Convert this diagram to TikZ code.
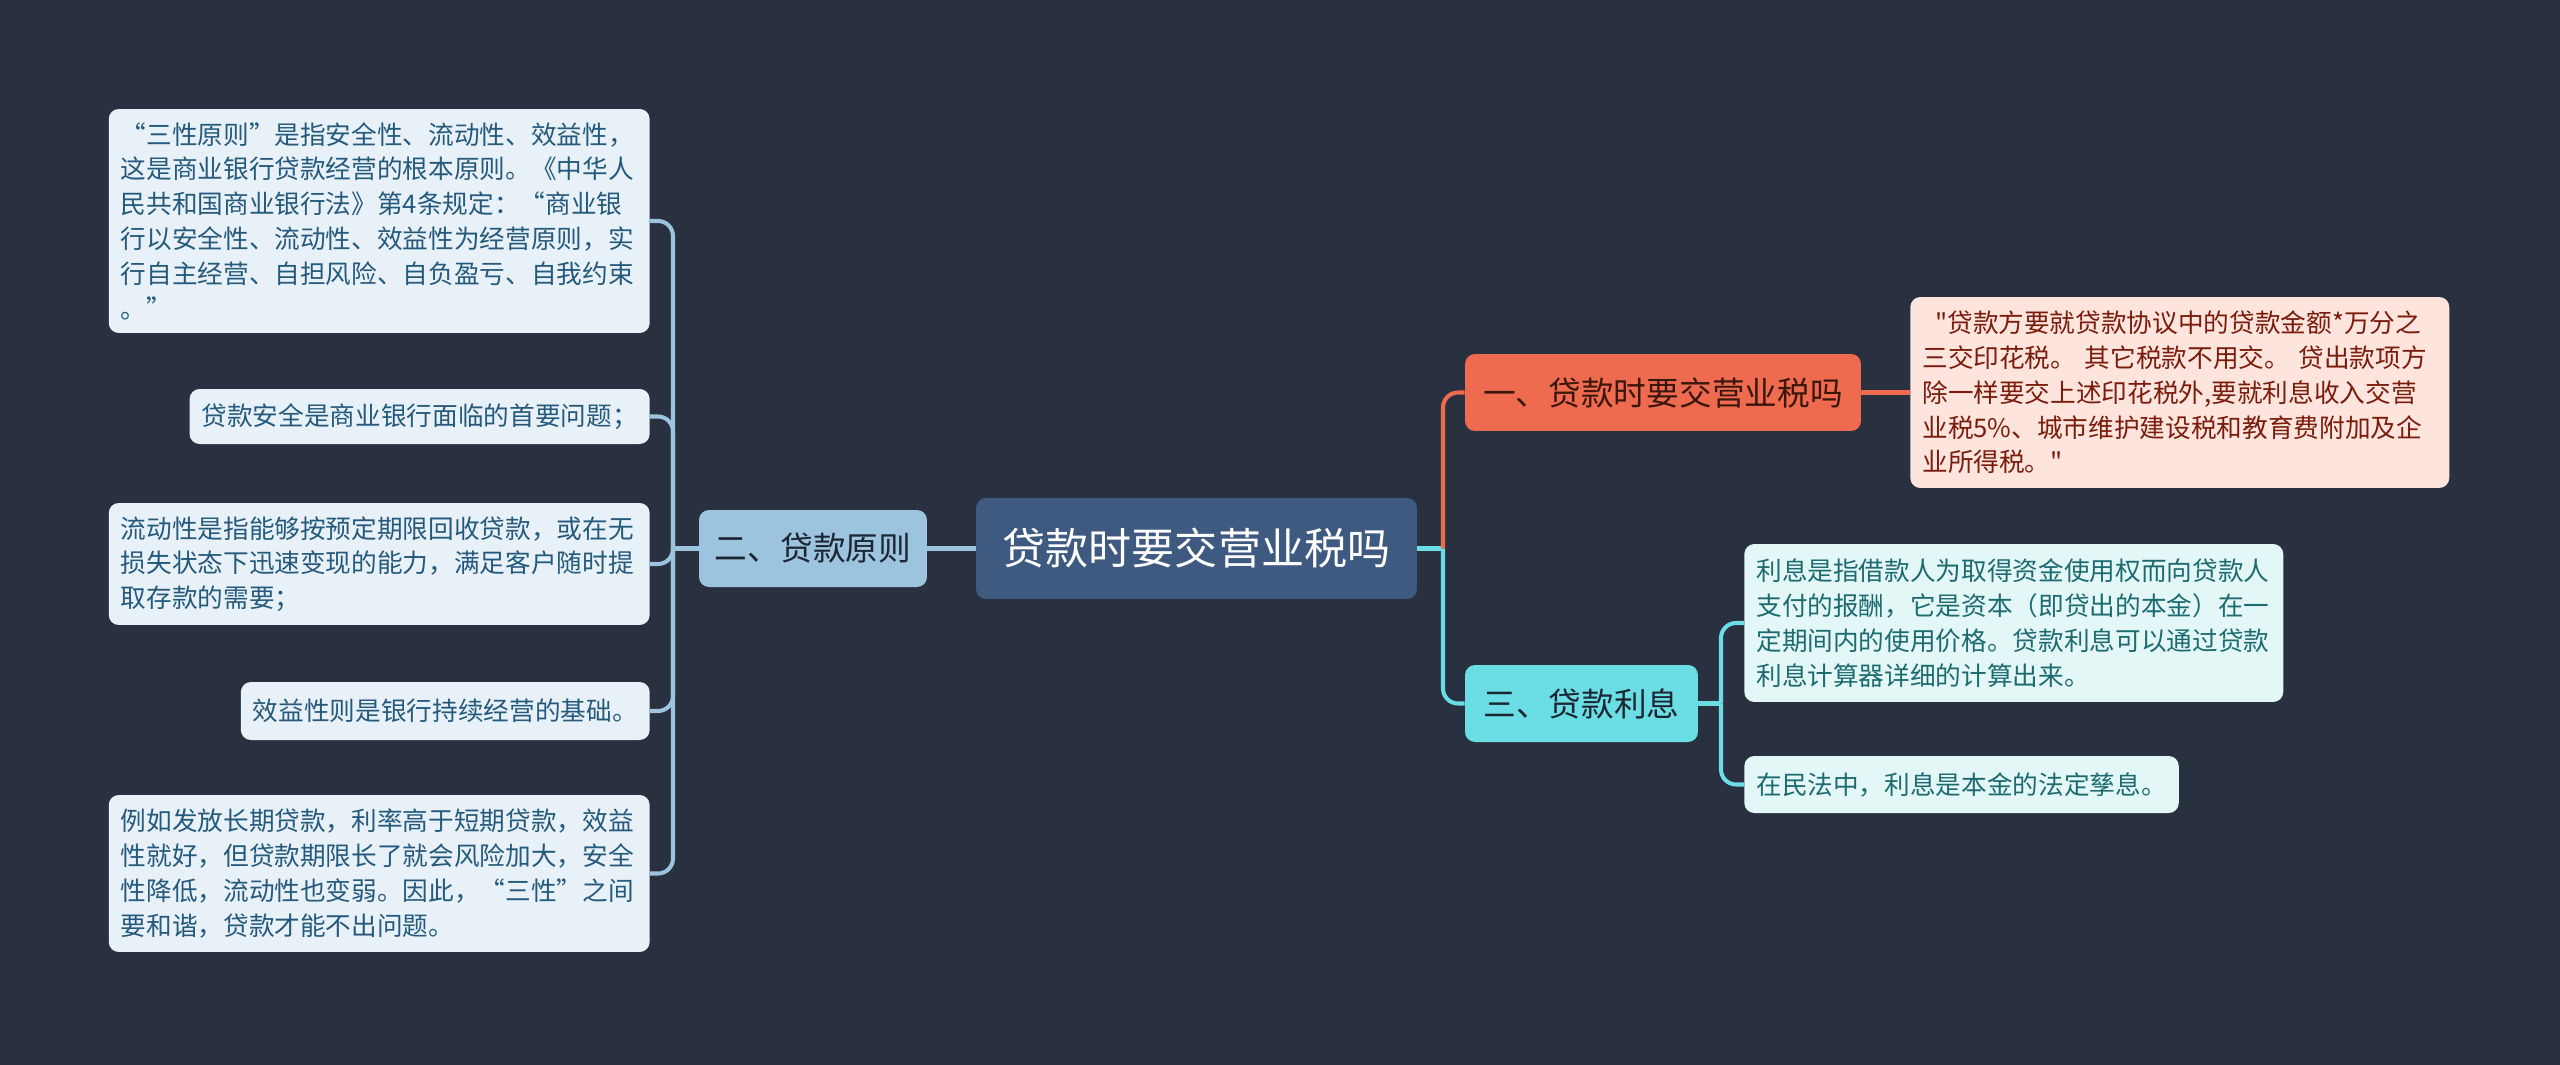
\documentclass[tikz,border=0pt]{standalone}
\usepackage{fontspec}
\setmainfont{Noto Sans CJK SC}[Ligatures=TeXOff]
\usepackage{xcolor}
\usepackage{tikz}
\usetikzlibrary{positioning}

\definecolor{bgcol}{HTML}{293140}
\definecolor{rootcol}{HTML}{3E5A80}
\definecolor{bluecol}{HTML}{9DC4DE}
\definecolor{leafcol}{HTML}{E8F1F8}
\definecolor{leaftext}{HTML}{255A7C}
\definecolor{redcol}{HTML}{EE6B4F}
\definecolor{pinkcol}{HTML}{FDE4DD}
\definecolor{redtext}{HTML}{7A1C0C}
\definecolor{cyancol}{HTML}{6BDDE4}
\definecolor{mintcol}{HTML}{E3F7F7}
\definecolor{tealtext}{HTML}{1D6B70}
\definecolor{navytext}{HTML}{1C2633}
\definecolor{browntext}{HTML}{3A160C}

\tikzset{
  box/.style={rounded corners=0.2cm, inner xsep=0.24cm, inner ysep=0.1cm},
  rootbox/.style={box, fill=rootcol, text=white, font=\fontsize{24.5}{28}\selectfont,
    minimum width=8.82cm, minimum height=2.02cm},
  branch/.style={box, font=\fontsize{18.6}{22}\selectfont, minimum height=1.54cm},
  leaf/.style={box, font=\fontsize{14.6}{19.8}\selectfont, align=left},
  bleaf/.style={leaf, fill=leafcol, text=leaftext},
  rleaf/.style={leaf, fill=pinkcol, text=redtext},
  cleaf/.style={leaf, fill=mintcol, text=tealtext},
  link/.style={line width=2.3pt},
  elbow/.style={link, rounded corners=0.3cm},
}

\begin{document}
\begin{tikzpicture}[x=0.02cm, y=-0.02cm]
\fill[bgcol] (0,0) rectangle (2560,1065);
% centre topic
\node[rootbox] (root) at (1196.5,548.5) {贷款时要交营业税吗};
% left branch: loan principles
\node[branch, fill=bluecol, text=navytext, minimum width=4.56cm] (two) at (813,548.5) {二、贷款原则};
\node[bleaf, anchor=east, text width=10.34cm, minimum height=4.48cm] (p1) at (650,221)
  {“三性原则”是指安全性、流动性、效益性，\\这是商业银行贷款经营的根本原则。《中华人\\民共和国商业银行法》第4条规定：“商业银\\行以安全性、流动性、效益性为经营原则，实\\行自主经营、自担风险、自负盈亏、自我约束\\。”};
\node[bleaf, anchor=east, minimum height=1.1cm] (p2) at (650,416.5) {贷款安全是商业银行面临的首要问题；};
\node[bleaf, anchor=east, text width=10.34cm, minimum height=2.44cm] (p3) at (650,564)
  {流动性是指能够按预定期限回收贷款，或在无\\损失状态下迅速变现的能力，满足客户随时提\\取存款的需要；};
\node[bleaf, anchor=east, minimum height=1.16cm] (p4) at (650,711) {效益性则是银行持续经营的基础。};
\node[bleaf, anchor=east, text width=10.34cm, minimum height=3.14cm] (p5) at (650,873.5)
  {例如发放长期贷款，利率高于短期贷款，效益\\性就好，但贷款期限长了就会风险加大，安全\\性降低，流动性也变弱。因此，“三性”之间\\要和谐，贷款才能不出问题。};
% right branch: business tax
\node[branch, fill=redcol, text=browntext, minimum width=7.92cm] (one) at (1663,392.5) {一、贷款时要交营业税吗};
\node[rleaf, anchor=west, text width=10.3cm, minimum height=3.82cm] (t1) at (1910,392.5)
  {\hspace{0.5em}"贷款方要就贷款协议中的贷款金额*万分之\\三交印花税。 其它税款不用交。 贷出款项方\\除一样要交上述印花税外,要就利息收入交营\\业税5\%、城市维护建设税和教育费附加及企\\业所得税。"};
% right branch: interest
\node[branch, fill=cyancol, text=navytext, minimum width=4.66cm] (three) at (1581.5,703.5) {三、贷款利息};
\node[cleaf, anchor=west, text width=10.3cm, minimum height=3.16cm] (i1) at (1744,623)
  {利息是指借款人为取得资金使用权而向贷款人\\支付的报酬，它是资本（即贷出的本金）在一\\定期间内的使用价格。贷款利息可以通过贷款\\利息计算器详细的计算出来。};
\node[cleaf, anchor=west, minimum height=1.14cm] (i2) at (1744,784.5) {在民法中，利息是本金的法定孳息。};

% connectors
\coordinate (lbus) at (673,548.5);
\coordinate (rbus) at (1443,548.5);
\coordinate (ibus) at (1721,703.5);
\draw[link, bluecol] (root.west) -- (two.east);
\draw[link, bluecol] (two.west) -- (lbus);
\foreach \n in {p1,p2,p3,p4,p5}
  \draw[elbow, bluecol] (lbus) |- (\n.east);
\draw[link, cyancol] (root.east) -- (rbus);
\draw[elbow, redcol] (rbus) |- (one.west);
\draw[elbow, cyancol] (rbus) |- (three.west);
\draw[link, redcol, line width=2.6pt] (one.east) -- (t1.west);
\draw[link, cyancol] (three.east) -- (ibus);
\draw[elbow, cyancol] (ibus) |- (i1.west);
\draw[elbow, cyancol] (ibus) |- (i2.west);
\end{tikzpicture}
\end{document}
